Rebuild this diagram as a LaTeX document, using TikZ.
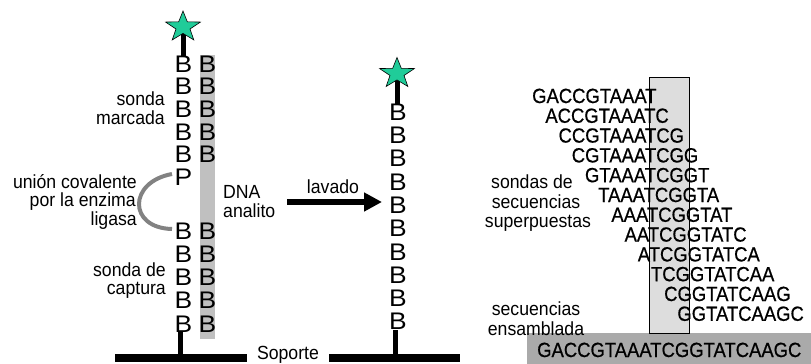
\documentclass[tikz,border=0pt]{standalone}
\usepackage{fontspec}
\setmainfont{Liberation Sans}
\newfontfamily\labfam[FakeStretch=0.93]{Liberation Sans}
\newfontfamily\seqfam[FakeStretch=0.9,FakeBold=0.6]{Liberation Sans}
\newfontfamily\basefam[FakeStretch=1.1]{Liberation Sans}
\usetikzlibrary{arrows.meta,calc}
\definecolor{stargreen}{RGB}{32,204,153}
\definecolor{bargray}{RGB}{192,192,192}
\definecolor{boxgray}{RGB}{221,221,221}
\definecolor{basegray}{RGB}{170,170,170}
\definecolor{liggray}{RGB}{130,130,130}
\tikzset{
  nuc/.style={inner sep=0pt,font=\basefam\fontsize{24}{24}\selectfont},
  lab/.style={inner sep=0pt,font=\labfam\fontsize{19}{20}\selectfont},
  seqline/.style={inner sep=0pt,anchor=base west,font=\seqfam\fontsize{20.5}{20}\selectfont},
  strand/.style={line width=5pt},
  soporte/.style={line width=8pt},
  starpath/.style={fill=stargreen,draw=black,line width=0.6pt,line join=miter},
}
\newcommand{\mystar}[2]{%
  \begin{scope}[shift={(#1,#2)},xscale=1.15]
    \path[starpath] (-90:16) -- (-54:6.4) -- (-18:16) -- (18:6.4) -- (54:16)
      -- (90:6.4) -- (126:16) -- (162:6.4) -- (198:16) -- (234:6.4) -- cycle;
  \end{scope}}
\begin{document}
\begin{tikzpicture}[x=1pt,y=-1pt]
\useasboundingbox (0,0) rectangle (811,364);

% ---------- left assembly ----------
\fill[bargray] (200,55) rectangle (215,339);
\coordinate (st1) at (183,27);
\foreach \i/\y in {1/64,2/86.6,3/109.2,4/131.8,5/154.4}{
  \node[nuc] (lb\i) at (183.5,\y) {B};
  \node[nuc] (rb\i) at (207.5,\y) {B};
}
\node[nuc] (lp) at (183.5,177) {P};
\foreach \i/\y in {6/231,7/254.2,8/277.4,9/300.6,10/323.8}{
  \node[nuc] (lb\i) at (183.5,\y) {B};
  \node[nuc] (rb\i) at (207.5,\y) {B};
}
\draw[strand] (st1) -- (st1 |- lb1.north);
\mystar{183}{27}

\coordinate (lig1) at (172,174);
\coordinate (lig2) at (172,229);
\draw[liggray,line width=4pt] (lig1) .. controls (128,182) and (128,228) .. (lig2);

\node[lab,anchor=base east] (l1) at (165,105) {sonda};
\node[lab,anchor=base east] (l2) at (165,124) {marcada};
\node[lab,anchor=base east] (l3) at (137,188) {unión covalente};
\node[lab,anchor=base east] (l4) at (136,206) {por la enzima};
\node[lab,anchor=base east] (l5) at (137,225) {ligasa};
\node[lab,anchor=base east] (l6) at (166,276) {sonda de};
\node[lab,anchor=base east] (l7) at (166,294) {captura};
\node[lab,anchor=base west] (d1) at (223,198) {DNA};
\node[lab,anchor=base west] (d2) at (223,217) {analito};

% ---------- wash arrow ----------
\node[lab,anchor=base] (lav) at (333,193) {lavado};
\coordinate (a1) at (287,202);
\coordinate (a2) at (382,202);
\draw[line width=6.5pt,-{Triangle[length=18pt,width=18pt]}] (a1) -- (a2);

% ---------- middle assembly ----------
\coordinate (st2) at (397,73.5);
\foreach \i/\y in {1/112,2/135.3,3/158.6,4/181.9,5/205.2,6/228.5,7/251.8,8/275.1,9/298.4,10/321.7}{
  \node[nuc] (mb\i) at (398,\y) {B};
}
\draw[strand] (st2) -- (st2 |- mb1.north);
\mystar{397}{73.5}

% ---------- support ----------
\node[lab,anchor=base] (sop) at (288,359.5) {Soporte};
\coordinate (sl1) at (115,358);
\coordinate (sl2) at (247,358);
\coordinate (sr1) at (329,358);
\coordinate (sr2) at (460,358);
\draw[soporte] (sl1) -- (sl2);
\draw[soporte] (sr1) -- (sr2);
\draw[strand] ([xshift=-3pt]lb10.south) -- ([xshift=-3pt]lb10.south |- sl1);
\draw[strand] ([xshift=-3pt]mb10.south) -- ([xshift=-3pt]mb10.south |- sr1);

% ---------- sequences ----------
\fill[basegray] (527,333) rectangle (811,364);
\filldraw[fill=boxgray,draw=black,line width=0.8pt] (649,77) rectangle (689,333);
\foreach \k/\s in {1/GACCGTAAAT,2/ACCGTAAATC,3/CCGTAAATCG,4/CGTAAATCGG,5/GTAAATCGGT,6/TAAATCGGTA,7/AAATCGGTAT,8/AATCGGTATC,9/ATCGGTATCA,10/TCGGTATCAA,11/CGGTATCAAG,12/GGTATCAAGC}{
  \node[seqline] (q\k) at ({532+(\k-1)*13.2},{103+(\k-1)*19.8}) {\s};
}
\node[seqline] (full) at (537,357) {GACCGTAAATCGGTATCAAGC};

\node[lab,anchor=base] (r1) at (532,188) {sondas de};
\node[lab,anchor=base] (r2) at (536,208) {secuencias};
\node[lab,anchor=base] (r3) at (538,227) {superpuestas};
\node[lab,anchor=base] (r4) at (536,315) {secuencias};
\node[lab,anchor=base] (r5) at (536,335) {ensamblada};
\end{tikzpicture}
\end{document}
